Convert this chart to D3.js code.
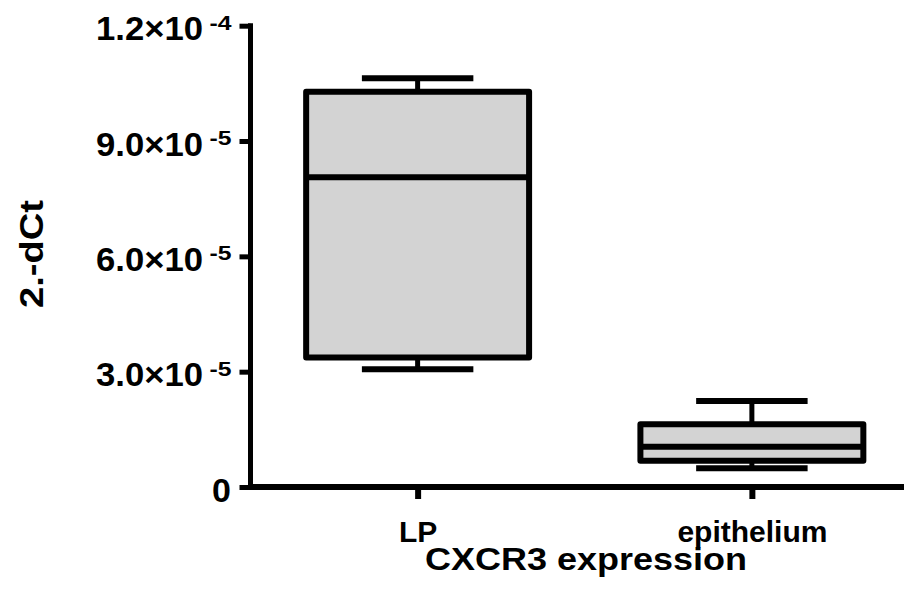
<!DOCTYPE html>
<html>
<head>
<meta charset="utf-8">
<script src="https://cdn.jsdelivr.net/npm/d3@7"></script>
<style>
  html, body { margin: 0; padding: 0; background: #fff; }
  svg { display: block; }
  text { font-family: "Liberation Sans", Arial, sans-serif; font-weight: bold; fill: #000; }
</style>
</head>
<body>
<svg id="chart" width="904" height="598"></svg>
<script>
// ---- data ----
const categories = ["LP", "epithelium"];
const whiskerLow  = [3.06e-5, 4.9e-6];
const q1          = [3.37e-5, 6.8e-6];
const median      = [8.06e-5, 1.05e-5];
const q3          = [1.028e-4, 1.63e-5];
const whiskerHigh = [1.063e-4, 2.24e-5];

const yTickValues    = [0, 3e-5, 6e-5, 9e-5, 1.2e-4];
const yTickMantissa  = ["0", "3.0×10", "6.0×10", "9.0×10", "1.2×10"];
const yTickExponent  = ["", "-5", "-5", "-5", "-4"];

const xTitle = "CXCR3 expression";
const yTitle = "2.-dCt";

// ---- layout ----
const svg = d3.select("#chart");
const x0 = 250.5, y0 = 487, yTop = 25.7;

const y = d3.scaleLinear().domain([0, 1.2e-4]).range([y0, yTop]);
const x = d3.scalePoint().domain(categories).range([x0, 919]).padding(0.5);
const step = x.step();
const boxW = step * 0.667;
const capW = boxW * 0.5;

const data = categories.map((c, i) => ({
  cat: c, lo: whiskerLow[i], q1: q1[i], med: median[i], q3: q3[i], hi: whiskerHigh[i]
}));

// ---- boxes ----
const g = svg.append("g");
const b = g.selectAll("g.box").data(data).enter().append("g").attr("class", "box");

b.append("line")
  .attr("x1", d => x(d.cat)).attr("x2", d => x(d.cat))
  .attr("y1", d => y(d.q3)).attr("y2", d => y(d.hi))
  .attr("stroke", "#000").attr("stroke-width", 5);
b.append("line")
  .attr("x1", d => x(d.cat)).attr("x2", d => x(d.cat))
  .attr("y1", d => y(d.q1)).attr("y2", d => y(d.lo))
  .attr("stroke", "#000").attr("stroke-width", 5);
b.append("line")
  .attr("x1", d => x(d.cat) - capW / 2).attr("x2", d => x(d.cat) + capW / 2)
  .attr("y1", d => y(d.hi)).attr("y2", d => y(d.hi))
  .attr("stroke", "#000").attr("stroke-width", 6);
b.append("line")
  .attr("x1", d => x(d.cat) - capW / 2).attr("x2", d => x(d.cat) + capW / 2)
  .attr("y1", d => y(d.lo)).attr("y2", d => y(d.lo))
  .attr("stroke", "#000").attr("stroke-width", 6);
b.append("rect")
  .attr("x", d => x(d.cat) - boxW / 2)
  .attr("width", boxW)
  .attr("y", d => y(d.q3))
  .attr("height", d => y(d.q1) - y(d.q3))
  .attr("fill", "#d3d3d3")
  .attr("stroke", "#000").attr("stroke-width", 6)
  .attr("stroke-linejoin", "round");
b.append("line")
  .attr("x1", d => x(d.cat) - boxW / 2).attr("x2", d => x(d.cat) + boxW / 2)
  .attr("y1", d => y(d.med)).attr("y2", d => y(d.med))
  .attr("stroke", "#000").attr("stroke-width", 6);

// ---- y axis ----
const yAxis = svg.append("g")
  .attr("transform", `translate(${x0},0)`)
  .call(d3.axisLeft(y).tickValues(yTickValues).tickSize(11).tickSizeOuter(0).tickPadding(6).tickFormat(() => ""));
yAxis.select(".domain").attr("stroke", "#000").attr("stroke-width", 5)
  .attr("d", `M0,${yTop - 2.5}V${y0}`);
yAxis.selectAll(".tick line").attr("stroke", "#000").attr("stroke-width", 5);
yAxis.selectAll(".tick").each(function(d, i) {
  const tick = d3.select(this);
  tick.select("text").remove();
  const hasExp = yTickExponent[i] !== "";
  const m = tick.append("text")
    .attr("y", 14)
    .attr("text-anchor", "start")
    .style("font-size", "34px")
    .text(yTickMantissa[i]);
  if (hasExp) {
    m.attr("x", -154.5).attr("textLength", 107).attr("lengthAdjust", "spacingAndGlyphs");
    tick.append("text")
      .attr("x", -41).attr("y", 3.5)
      .attr("text-anchor", "start")
      .style("font-size", "20px")
      .attr("textLength", 22).attr("lengthAdjust", "spacingAndGlyphs")
      .text(yTickExponent[i]);
  } else {
    m.attr("x", -38.5);
  }
});

// ---- x axis ----
const xAxis = svg.append("g")
  .attr("transform", `translate(0,${y0})`)
  .call(d3.axisBottom(x).tickSize(12).tickSizeOuter(0).tickPadding(10));
xAxis.select(".domain").attr("stroke", "#000").attr("stroke-width", 6)
  .attr("d", `M${x0 - 2.5},0H904`);
xAxis.selectAll(".tick line").attr("stroke", "#000").attr("stroke-width", 6);
xAxis.selectAll(".tick text")
  .attr("dy", null).attr("y", 54.5)
  .style("font-size", "30px")
  .style("font-family", "'Liberation Sans', Arial, sans-serif").style("font-weight", "bold");

// ---- titles ----
svg.append("text")
  .attr("x", 425).attr("y", 570)
  .attr("text-anchor", "start")
  .style("font-size", "31px")
  .attr("textLength", 322).attr("lengthAdjust", "spacingAndGlyphs")
  .text(xTitle);

svg.append("text")
  .attr("transform", "translate(43,308) rotate(-90)")
  .attr("text-anchor", "start")
  .style("font-size", "34px")
  .attr("textLength", 108).attr("lengthAdjust", "spacingAndGlyphs")
  .text(yTitle);
</script>
</body>
</html>
